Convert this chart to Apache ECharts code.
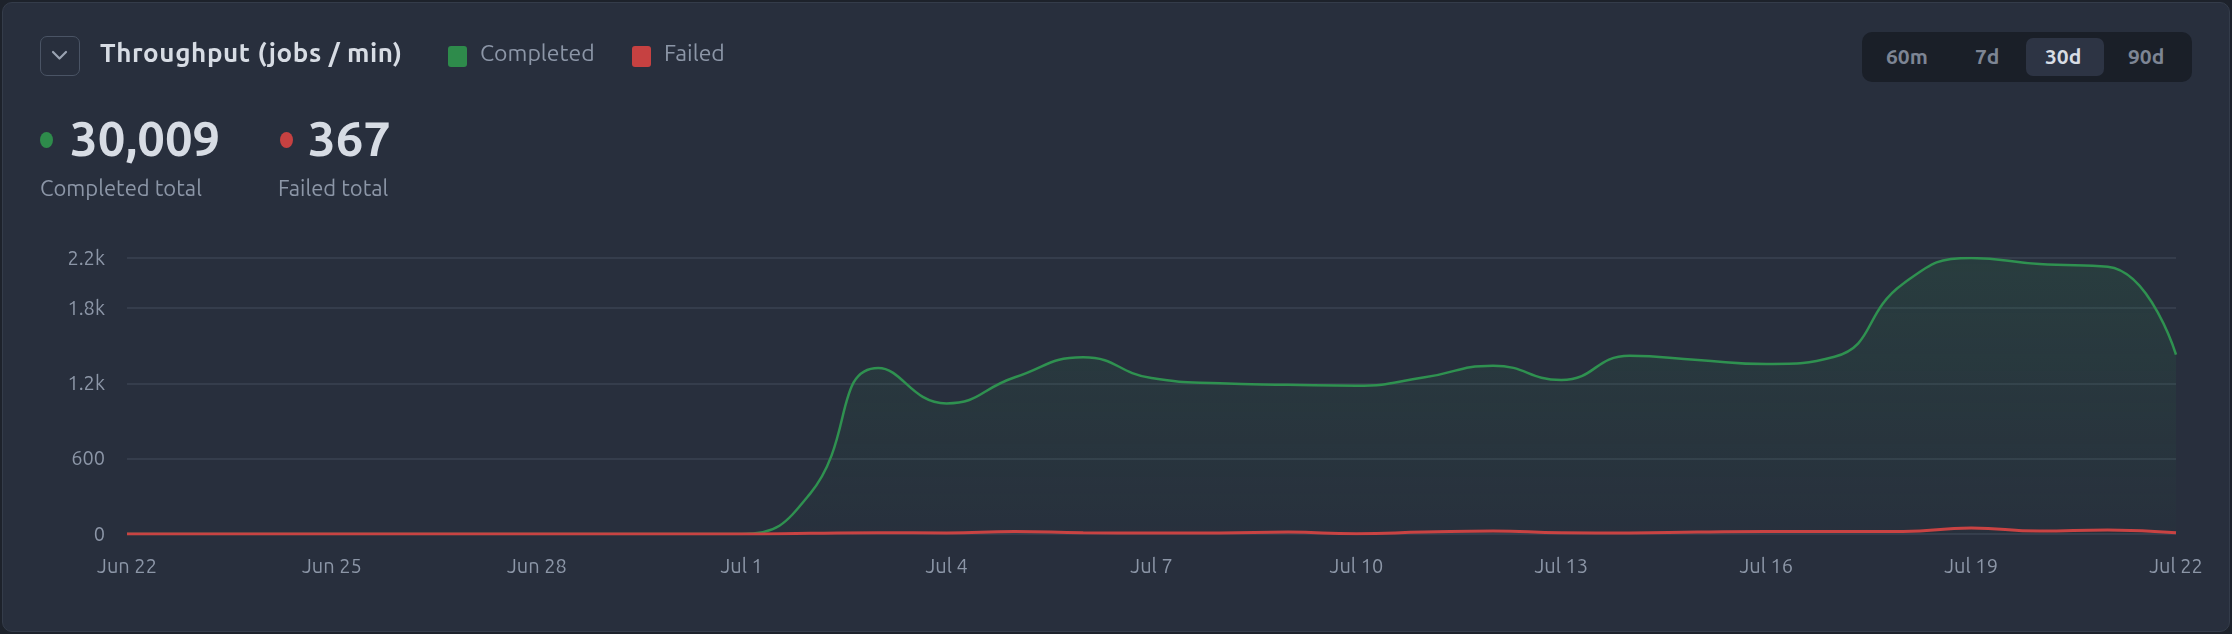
<!DOCTYPE html>
<html><head><meta charset="utf-8">
<script src="https://cdn.jsdelivr.net/npm/echarts@6/dist/echarts.min.js"></script>
<style>
html,body{margin:0;padding:0;background:#1d222b;width:2232px;height:634px;overflow:hidden;font-family:Ubuntu,"Noto Sans",sans-serif;}
#card{position:absolute;left:2px;top:2px;width:2226px;height:628px;background:#282f3d;border-radius:10px;border:1px solid #343c4a;}
#chart{position:absolute;left:0;top:0;width:2232px;height:634px;}
.ov{position:absolute;white-space:nowrap;}
</style></head><body>
<div id="card"></div>
<div id="chart"></div>
<div class="ov" style="left:40px;top:36px;width:40px;height:40px;border:1.5px solid #4a5465;border-radius:7px;box-sizing:border-box;">
<svg width="37" height="37" viewBox="0 0 37 37"><polyline points="12,15 18.5,21.5 25,15" fill="none" stroke="#9aa3b2" stroke-width="2.2" stroke-linecap="round" stroke-linejoin="round"/></svg></div>
<div class="ov" style="left:100px;top:38px;font-size:26px;font-weight:bold;color:#d7dce4;letter-spacing:0.6px;">Throughput (jobs / min)</div>
<div class="ov" style="left:448px;top:46px;width:19px;height:21px;border-radius:3px;background:#2e8b4b;"></div>
<div class="ov" style="left:480px;top:40px;font-size:23px;color:#8c96a7;">Completed</div>
<div class="ov" style="left:632px;top:46px;width:19px;height:21px;border-radius:3px;background:#c64141;"></div>
<div class="ov" style="left:664px;top:40px;font-size:23px;color:#8c96a7;">Failed</div>
<div class="ov" style="left:40px;top:132px;width:13px;height:16px;border-radius:50%;background:#2e8b4b;"></div>
<div class="ov" style="left:70px;top:110px;font-size:49px;font-weight:bold;color:#d7dce4;">30,009</div>
<div class="ov" style="left:280px;top:132px;width:13px;height:16px;border-radius:50%;background:#c64141;"></div>
<div class="ov" style="left:308px;top:110px;font-size:49px;font-weight:bold;color:#d7dce4;">367</div>
<div class="ov" style="left:40px;top:175px;font-size:22px;color:#8c96a7;">Completed total</div>
<div class="ov" style="left:278px;top:175px;font-size:22px;color:#8c96a7;">Failed total</div>
<div class="ov" style="left:1862px;top:32px;width:330px;height:50px;border-radius:10px;background:#1a1f28;"></div>
<div class="ov" style="left:2026px;top:38px;width:78px;height:38px;border-radius:7px;background:#2d3444;"></div>
<div class="ov" style="left:1886px;top:44px;font-size:21px;font-weight:bold;color:#7d8594;">60m</div>
<div class="ov" style="left:1975px;top:44px;font-size:21px;font-weight:bold;color:#7d8594;">7d</div>
<div class="ov" style="left:2045px;top:44px;font-size:21px;font-weight:bold;color:#d7dce4;">30d</div>
<div class="ov" style="left:2128px;top:44px;font-size:21px;font-weight:bold;color:#7d8594;">90d</div>
<script>
const categories=["Jun 22","Jun 23","Jun 24","Jun 25","Jun 26","Jun 27","Jun 28","Jun 29","Jun 30","Jul 1","Jul 2","Jul 3","Jul 4","Jul 5","Jul 6","Jul 7","Jul 8","Jul 9","Jul 10","Jul 11","Jul 12","Jul 13","Jul 14","Jul 15","Jul 16","Jul 17","Jul 18","Jul 19","Jul 20","Jul 21","Jul 22"];
const completed=[0,0,0,0,0,0,0,0,0,0,320,1323,1041,1249,1408,1243,1201,1190,1182,1249,1342,1228,1421,1387,1355,1413,1993,2200,2152,2131,1429];
const failed=[0,0,0,0,0,0,0,0,0,0,5,10,8,20,10,8,8,15,2,15,24,10,8,15,20,20,20,48,24,32,10];
const yTicks=[0,600,1200,1800,2200];
const c=echarts.init(document.getElementById('chart'));
c.setOption({
 animation:false,
 grid:{left:127,right:56,top:258,bottom:100},
 xAxis:{type:'category',data:categories,boundaryGap:false,
  axisLine:{show:false},axisTick:{show:false},
  axisLabel:{interval:2,color:'#8c96a7',fontSize:20,margin:22,fontFamily:'Ubuntu,Noto Sans'}},
 yAxis:{type:'value',min:0,max:2200,
  axisLabel:{customValues:yTicks,color:'#8c96a7',fontSize:20,margin:22,fontFamily:'Ubuntu,Noto Sans',
   formatter:v=>v>=1000?(v/1000).toFixed(1)+'k':String(v)},
  axisTick:{show:false,customValues:yTicks},
  splitLine:{show:true,lineStyle:{color:'#3a4352',width:1.5}}},
 series:[
  {name:'Completed',type:'line',data:completed,smooth:0.5,symbol:'none',z:2,
   lineStyle:{color:'#2f9150',width:2.5},
   areaStyle:{color:new echarts.graphic.LinearGradient(0,0,0,1,[{offset:0,color:'rgba(46,139,75,0.22)'},{offset:1,color:'rgba(46,139,75,0.03)'}])}},
  {name:'Failed',type:'line',data:failed,smooth:0.5,symbol:'none',z:3,
   lineStyle:{color:'#c94343',width:3}}
 ]
});
</script>
</body></html>
